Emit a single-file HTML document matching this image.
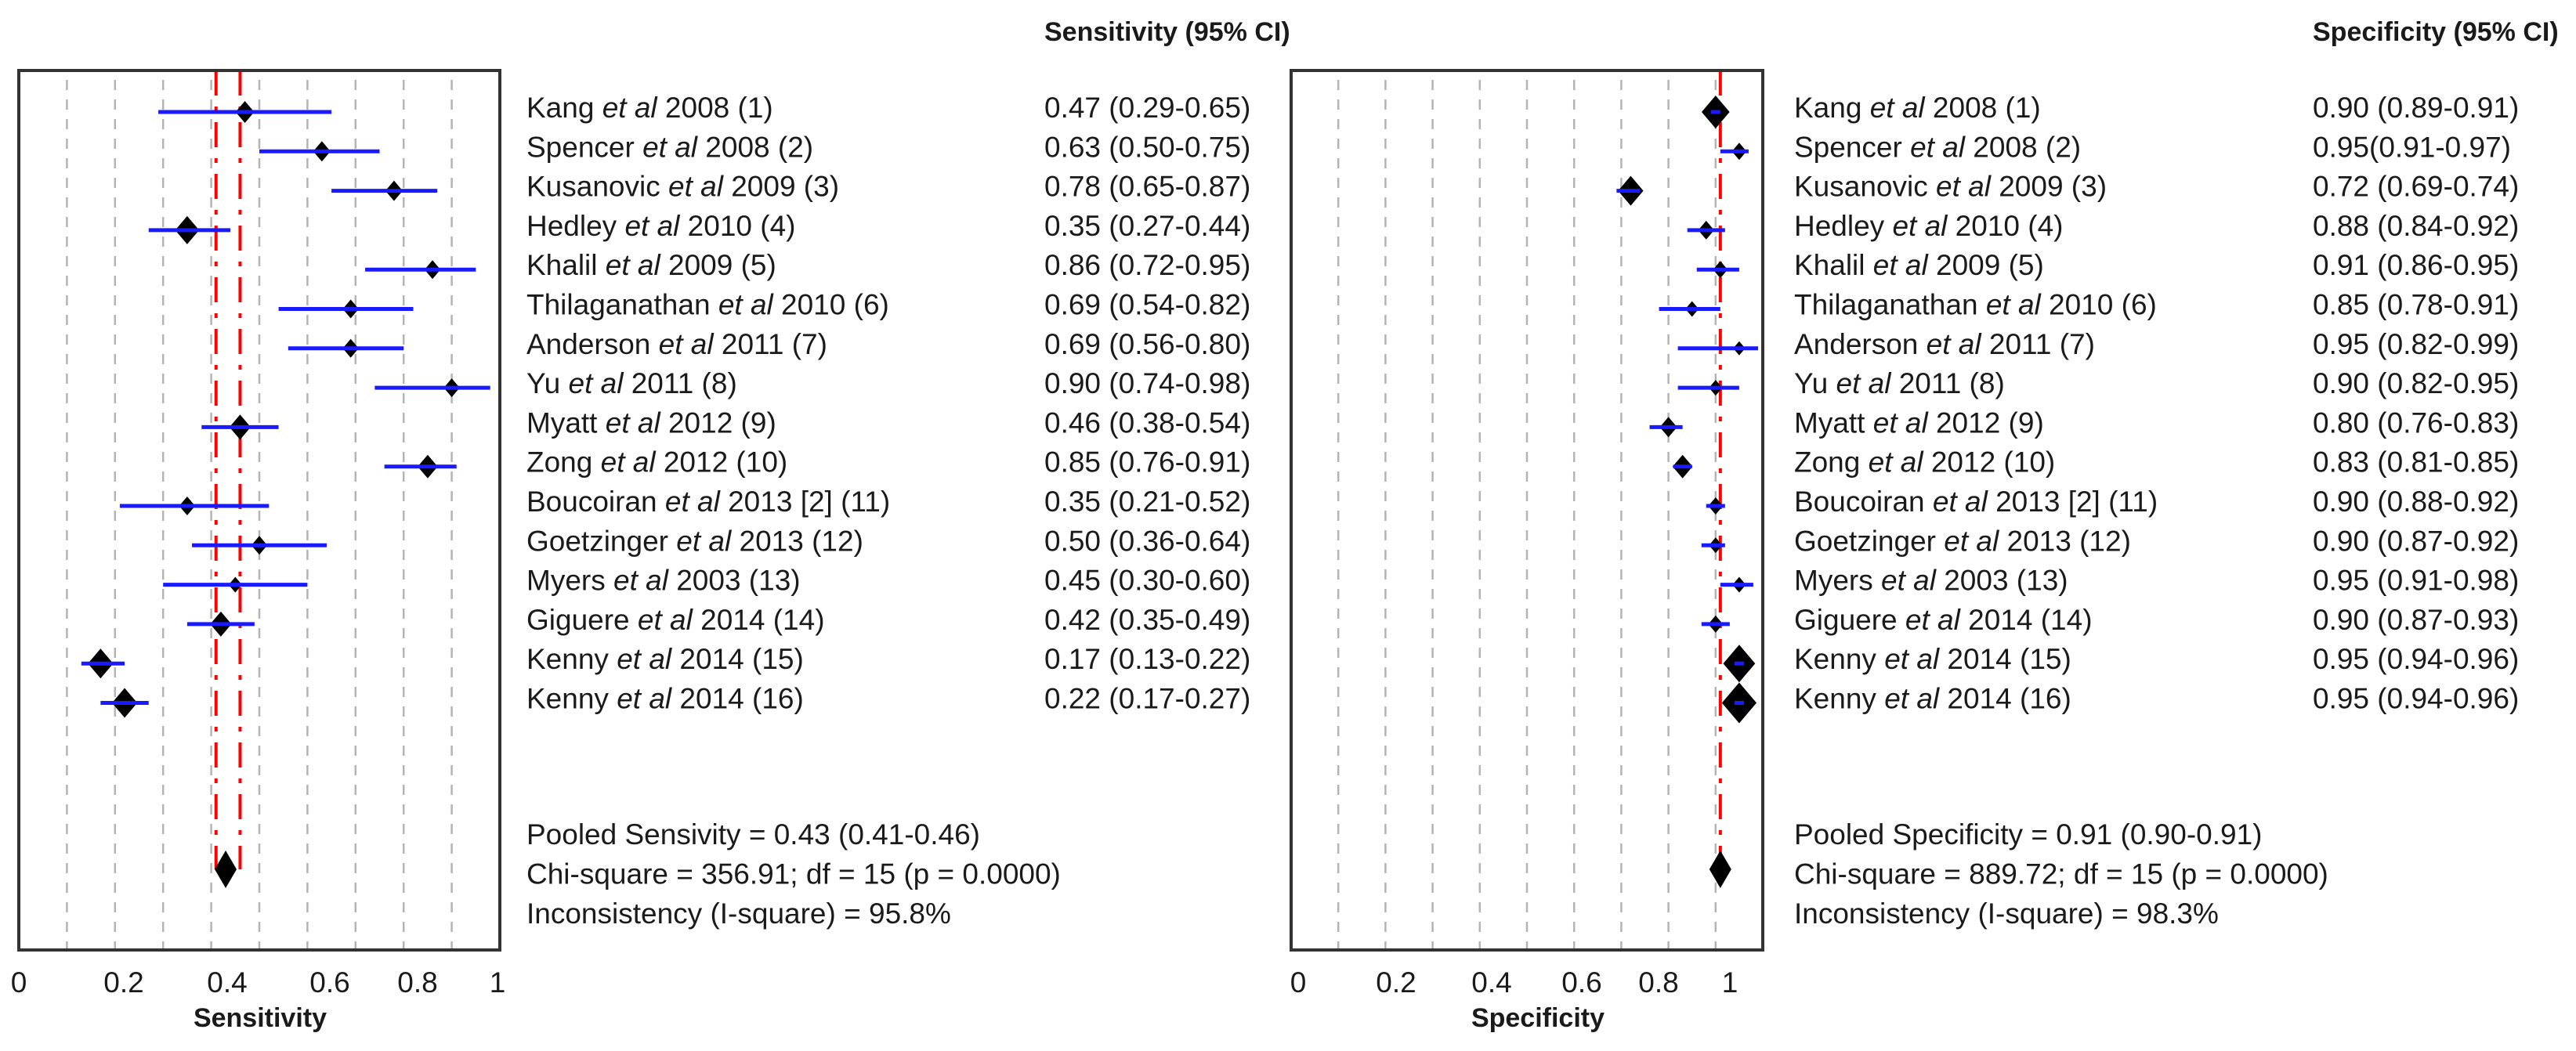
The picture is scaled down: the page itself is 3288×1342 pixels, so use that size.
<!DOCTYPE html>
<html><head><meta charset="utf-8"><style>
html,body{margin:0;padding:0;background:#fff;}
svg{display:block;}
text{font-family:"Liberation Sans",sans-serif;font-size:37px;fill:#1a1a1a;}
.b{font-weight:bold;font-size:34px;}
</style></head><body>
<svg id="chart" width="3288" height="1342" viewBox="0 0 3288 1342" xmlns="http://www.w3.org/2000/svg">
<g id="left"></g>
<g id="right"></g>
</svg>
<script>
const studies = ["Kang|2008 (1)","Spencer|2008 (2)","Kusanovic|2009 (3)","Hedley|2010 (4)","Khalil|2009 (5)","Thilaganathan|2010 (6)","Anderson|2011 (7)","Yu|2011 (8)","Myatt|2012 (9)","Zong|2012 (10)","Boucoiran|2013 [2] (11)","Goetzinger|2013 (12)","Myers|2003 (13)","Giguere|2014 (14)","Kenny|2014 (15)","Kenny|2014 (16)"];
const sensVal = [0.47,0.63,0.78,0.35,0.86,0.69,0.69,0.90,0.46,0.85,0.35,0.50,0.45,0.42,0.17,0.22];
const sensLo  = [0.29,0.50,0.65,0.27,0.72,0.54,0.56,0.74,0.38,0.76,0.21,0.36,0.30,0.35,0.13,0.17];
const sensHi  = [0.65,0.75,0.87,0.44,0.95,0.82,0.80,0.98,0.54,0.91,0.52,0.64,0.60,0.49,0.22,0.27];
const sensWeight = [14,13,13,18,12,12,12,12,16,15,12,12,10,16,19,19];
const specVal = [0.90,0.95,0.72,0.88,0.91,0.85,0.95,0.90,0.80,0.83,0.90,0.90,0.95,0.90,0.95,0.95];
const specLo  = [0.89,0.91,0.69,0.84,0.86,0.78,0.82,0.82,0.76,0.81,0.88,0.87,0.91,0.87,0.94,0.94];
const specHi  = [0.91,0.97,0.74,0.92,0.95,0.91,0.99,0.95,0.83,0.85,0.92,0.92,0.98,0.93,0.96,0.96];
const specWeight = [21,11,19,12,11,10,9,10,13,15,11,10,10,11,24,26];
const sensText = ["0.47 (0.29-0.65)","0.63 (0.50-0.75)","0.78 (0.65-0.87)","0.35 (0.27-0.44)","0.86 (0.72-0.95)","0.69 (0.54-0.82)","0.69 (0.56-0.80)","0.90 (0.74-0.98)","0.46 (0.38-0.54)","0.85 (0.76-0.91)","0.35 (0.21-0.52)","0.50 (0.36-0.64)","0.45 (0.30-0.60)","0.42 (0.35-0.49)","0.17 (0.13-0.22)","0.22 (0.17-0.27)"];
const specText = ["0.90 (0.89-0.91)","0.95(0.91-0.97)","0.72 (0.69-0.74)","0.88 (0.84-0.92)","0.91 (0.86-0.95)","0.85 (0.78-0.91)","0.95 (0.82-0.99)","0.90 (0.82-0.95)","0.80 (0.76-0.83)","0.83 (0.81-0.85)","0.90 (0.88-0.92)","0.90 (0.87-0.92)","0.95 (0.91-0.98)","0.90 (0.87-0.93)","0.95 (0.94-0.96)","0.95 (0.94-0.96)"];
const sensPooled = [0.43,0.41,0.46];
const specPooled = [0.91,0.90,0.91];
const sensStats = ["Pooled Sensivity = 0.43 (0.41-0.46)","Chi-square = 356.91; df = 15 (p = 0.0000)","Inconsistency (I-square) = 95.8%"];
const specStats = ["Pooled Specificity = 0.91 (0.90-0.91)","Chi-square = 889.72; df = 15 (p = 0.0000)","Inconsistency (I-square) = 98.3%"];
const tickLabels = ["0","0.2","0.4","0.6","0.8","1"];
const gridVals = [0.1,0.2,0.3,0.4,0.5,0.6,0.7,0.8,0.9];

const NS="http://www.w3.org/2000/svg";
function mk(parent,tag,attrs,txt){const e=document.createElementNS(NS,tag);for(const k in attrs)e.setAttribute(k,attrs[k]);if(txt!==undefined)e.textContent=txt;parent.appendChild(e);return e;}
const TOP=90,BOT=1213,ROW0=143,ROWH=50.3;
const rowY=i=>ROW0+ROWH*i;

function panel(g,cfg){
  const x=v=>cfg.x0+(cfg.x1-cfg.x0)*v;
  gridVals.forEach(v=>{
    const l=mk(g,'line',{x1:x(v),x2:x(v),y1:TOP+12,y2:BOT,stroke:'#b4b4b4','stroke-width':2.5,'stroke-dasharray':'13 12'});
    
    
  });
  const py=1110;
  const redVals = cfg.single?[cfg.pooled[0]]:[cfg.pooled[1],cfg.pooled[2]];
  redVals.forEach(v=>{
    const l=mk(g,'line',{x1:x(v),x2:x(v),y1:TOP,y2:py,stroke:'#ff0000','stroke-width':4,'stroke-dasharray':'32 14 6 14'});
    
    
  });
  const f=mk(g,'rect',{x:cfg.x0,y:TOP,width:cfg.x1-cfg.x0,height:BOT-TOP,fill:'none',stroke:'#333','stroke-width':4});
  
  
  cfg.val.forEach((v,i)=>{
    const y=rowY(i),h=cfg.w[i],w=h*0.85;
    const d=mk(g,'path',{d:`M${x(v)} ${y-h} L${x(v)+w} ${y} L${x(v)} ${y+h} L${x(v)-w} ${y} Z`,fill:'#000'});
    
    
    const c=mk(g,'line',{x1:x(cfg.lo[i]),x2:x(cfg.hi[i]),y1:y,y2:y,stroke:'#1a1aff','stroke-width':5});
    
    
    const parts=studies[i].split('|');
    const t=mk(g,'text',{x:cfg.lx,y:y+7});
    t.setAttribute('xml:space','preserve');
    
    
    mk(t,'tspan',{},parts[0]+' ');
    mk(t,'tspan',{'font-style':'italic'},'et al');
    mk(t,'tspan',{},'  '+parts[1]);
    const vt=mk(g,'text',{x:cfg.vx,y:y+7},cfg.txt[i]);
    
    
  });
  const pv=x(cfg.pooled[0]);
  const pd=mk(g,'path',{d:`M${pv} ${py-24} L${pv+14} ${py} L${pv} ${py+24} L${pv-14} ${py} Z`,fill:'#000'});
  
  
  cfg.stats.forEach((s,i)=>{
    const t=mk(g,'text',{x:cfg.lx,y:1078+50.5*i},s);
    
    
  });
  const h=mk(g,'text',{x:cfg.vx,y:52,class:'b'},cfg.header);
  h.setAttribute('xml:space','preserve');
  
  
  tickLabels.forEach((s,i)=>{
    const t=mk(g,'text',{x:cfg.tickX[i],y:1267,'text-anchor':'middle'},s);
    
    
  });
  const at=mk(g,'text',{x:cfg.titleX,y:1311,'text-anchor':'middle',class:'b'},cfg.title);
  
  
}
panel(document.getElementById('left'),{x0:24,x1:638,lx:672,vx:1333,val:sensVal,lo:sensLo,hi:sensHi,w:sensWeight,txt:sensText,pooled:sensPooled,stats:sensStats,header:"Sensitivity  (95% CI)",title:"Sensitivity",tickX:[24,158,290,421,533,635],titleX:332});
panel(document.getElementById('right'),{x0:1648,x1:2250,lx:2290,vx:2952,val:specVal,lo:specLo,hi:specHi,w:specWeight,txt:specText,pooled:specPooled,stats:specStats,header:"Specificity  (95% CI)",title:"Specificity",tickX:[1657,1782,1904,2019,2117,2208],titleX:1963,single:true});
</script>
</body></html>
